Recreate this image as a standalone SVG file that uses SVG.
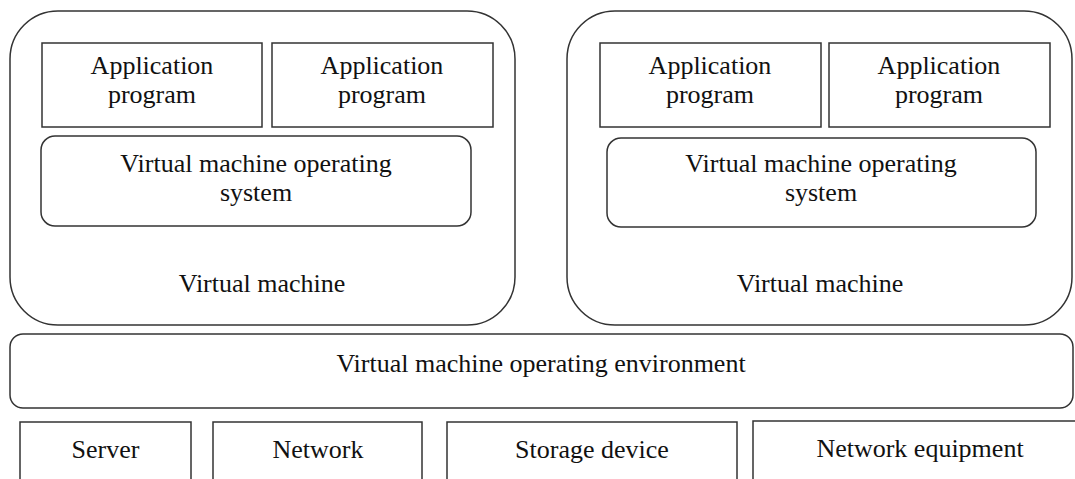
<svg xmlns="http://www.w3.org/2000/svg" width="1075" height="479" viewBox="0 0 1075 479">
<style>
  .box { fill: #ffffff; stroke: #333333; stroke-width: 1.5; }
  .t { font-family: "Liberation Serif", "Times New Roman", serif; font-size: 26px; fill: #111111; text-anchor: middle; }
</style>
<rect width="1075" height="479" fill="#ffffff"/>
<g id="vm-left">
  <rect class="box" x="10" y="11" width="505" height="314" rx="48" ry="48"/>
  <text class="t" x="262" y="292">Virtual machine</text>
</g>
<g id="app-left-1">
  <rect class="box" x="42" y="43" width="220" height="84"/>
  <text class="t" x="152" y="74">Application</text>
  <text class="t" x="152" y="103">program</text>
</g>
<g id="app-left-2">
  <rect class="box" x="272" y="43" width="221" height="84"/>
  <text class="t" x="382" y="74">Application</text>
  <text class="t" x="382" y="103">program</text>
</g>
<g id="vmos-left">
  <rect class="box" x="41" y="136" width="430" height="90" rx="14" ry="14"/>
  <text class="t" x="256" y="172">Virtual machine operating</text>
  <text class="t" x="256" y="201">system</text>
</g>
<g id="vm-right">
  <rect class="box" x="567" y="11" width="505" height="314" rx="48" ry="48"/>
  <text class="t" x="820" y="292">Virtual machine</text>
</g>
<g id="app-right-1">
  <rect class="box" x="600" y="43" width="221" height="84"/>
  <text class="t" x="710" y="74">Application</text>
  <text class="t" x="710" y="103">program</text>
</g>
<g id="app-right-2">
  <rect class="box" x="829" y="43" width="221" height="84"/>
  <text class="t" x="939" y="74">Application</text>
  <text class="t" x="939" y="103">program</text>
</g>
<g id="vmos-right">
  <rect class="box" x="607" y="138" width="429" height="89" rx="14" ry="14"/>
  <text class="t" x="821" y="172">Virtual machine operating</text>
  <text class="t" x="821" y="201">system</text>
</g>
<g id="environment">
  <rect class="box" x="10" y="334" width="1063" height="74" rx="13" ry="13"/>
  <text class="t" x="541" y="372">Virtual machine operating environment</text>
</g>
<g id="server">
  <rect class="box" x="20" y="422" width="171" height="70"/>
  <text class="t" x="105.5" y="458">Server</text>
</g>
<g id="network">
  <rect class="box" x="213" y="422" width="209" height="70"/>
  <text class="t" x="318" y="458">Network</text>
</g>
<g id="storage">
  <rect class="box" x="447" y="422" width="290" height="70"/>
  <text class="t" x="592" y="458">Storage device</text>
</g>
<g id="network-equipment">
  <rect class="box" x="753" y="421" width="340" height="70"/>
  <text class="t" x="920" y="457">Network equipment</text>
</g>
<g id="connectors"/>
</svg>
